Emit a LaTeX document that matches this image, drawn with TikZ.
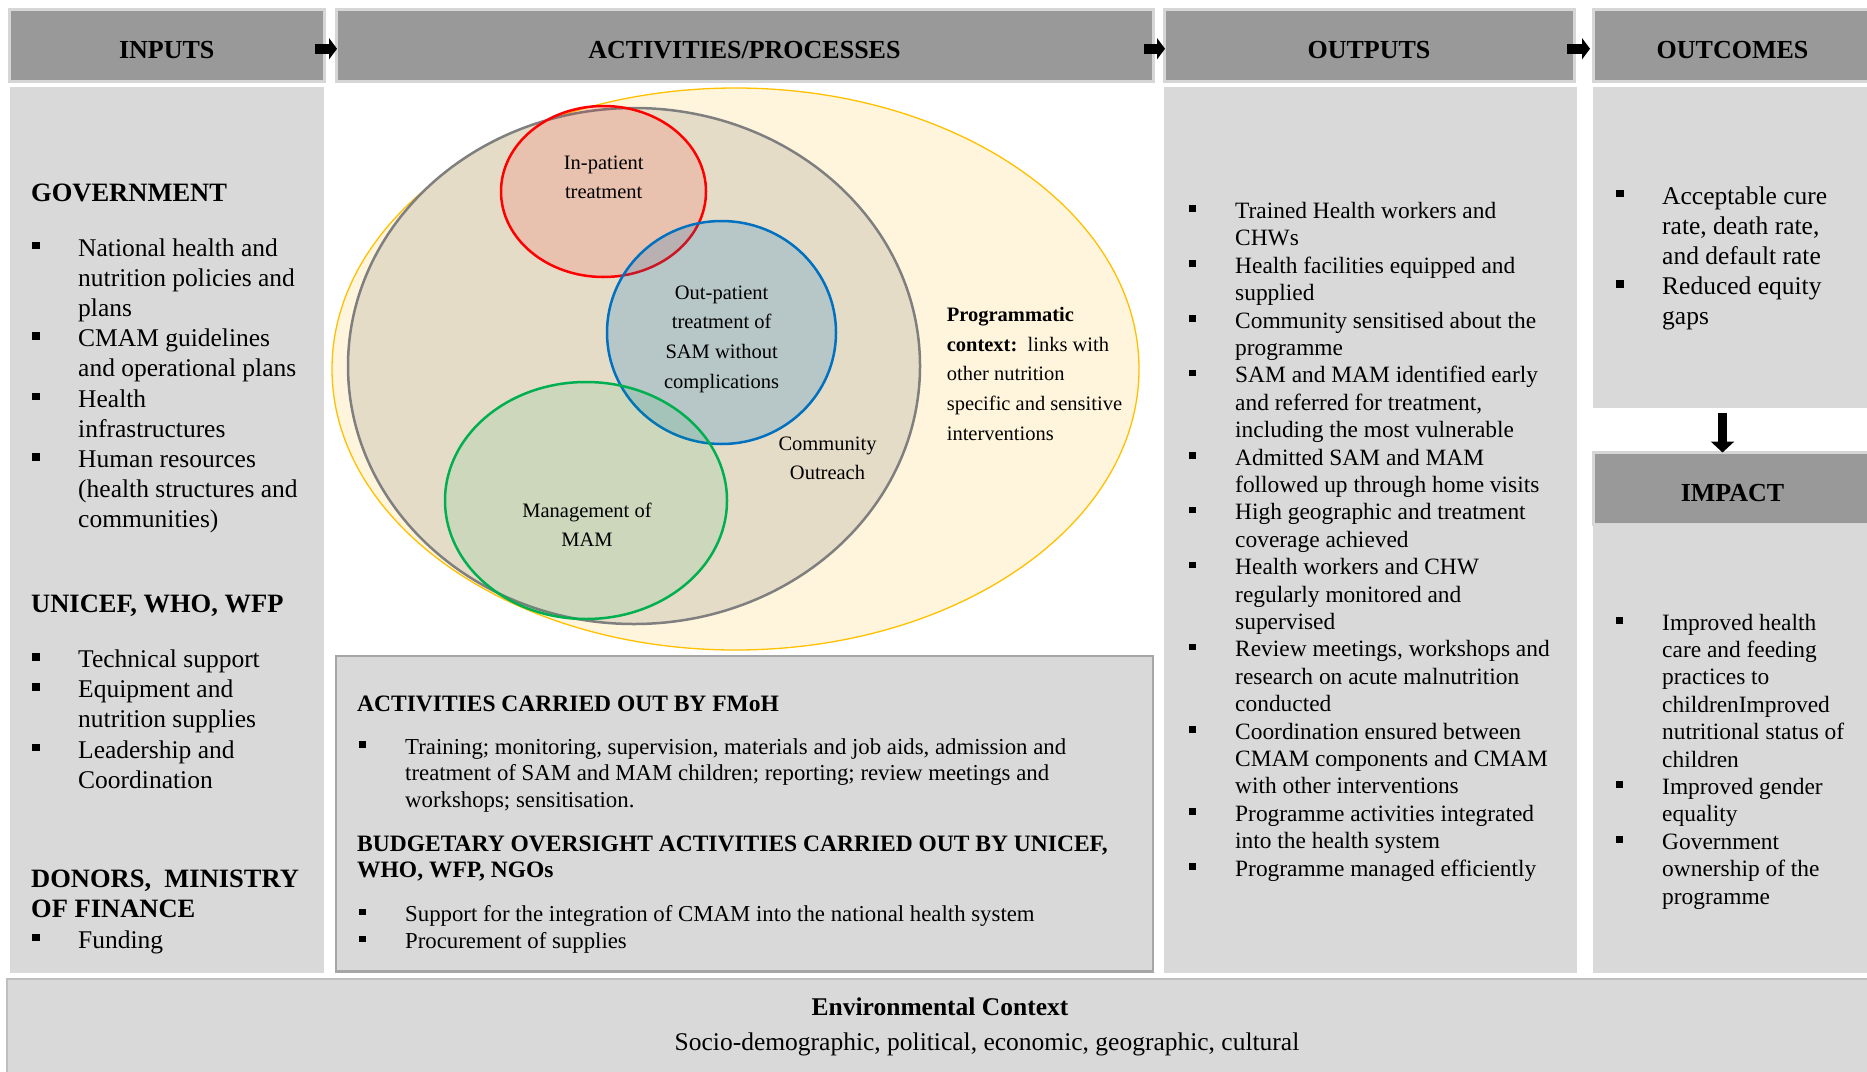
\documentclass[tikz,border=0pt]{standalone}
\usepackage{fontspec}
\setmainfont{Liberation Serif}
\usetikzlibrary{arrows.meta}

\definecolor{hdrgray}{HTML}{999999}
\definecolor{hdredge}{HTML}{D6D6D6}
\definecolor{boxgray}{HTML}{D9D9D9}
\definecolor{actedge}{HTML}{A6A6A6}
\definecolor{envedge}{HTML}{BFBFBF}
\definecolor{progfill}{HTML}{FFF5DC}
\definecolor{progline}{HTML}{FFC000}
\definecolor{commfill}{HTML}{E5DCC8}
\definecolor{commline}{HTML}{7F7F7F}
\definecolor{inred}{HTML}{FF0000}
\definecolor{outblue}{HTML}{0070C0}
\definecolor{mamgreen}{HTML}{00B050}

% square bullet with its hanging indent
\newcommand{\sqb}{\makebox[46pt][l]{\rule[0.27em]{0.29em}{0.29em}}}
% stacked lines, first baseline on the node's base
\newcommand{\txtrows}[2][l]{\begin{tabular}[t]{@{}#1@{}}#2\end{tabular}}

\begin{document}
\begin{tikzpicture}[x=1pt,y=-1pt,
  hdr/.style={draw=hdredge, line width=3pt, fill=hdrgray, outer sep=0pt, inner sep=0pt,
    anchor=north west, minimum height=71.5pt, text height=26pt, text depth=0pt,
    font=\fontsize{26}{30}\selectfont\bfseries},
  panel/.style={fill=boxgray, outer sep=0pt, inner sep=0pt, anchor=north west},
  blk/.style={line width=10pt, -{Triangle[length=8pt,width=21pt]}},
  venn/.style={font=\fontsize{20.5}{29.7}\selectfont, inner sep=0pt, anchor=base},
  subhd/.style={font=\fontsize{26.5}{30.2}\selectfont\bfseries, inner sep=0pt, anchor=base west},
  bigtxt/.style={font=\fontsize{25.5}{30.2}\selectfont, inner sep=0pt, anchor=base west},
  outtxt/.style={font=\fontsize{23.4}{27.4}\selectfont, inner sep=0pt, anchor=base west},
  acthd/.style={font=\fontsize{23.5}{26.8}\selectfont\bfseries, inner sep=0pt, anchor=base west},
  acttxt/.style={font=\fontsize{22.8}{26.8}\selectfont, inner sep=0pt, anchor=base west}]
  \useasboundingbox (0,0) rectangle (1867,1071);

  % Column headers
  \node[hdr, minimum width=314.5pt] (inputsH) at (9.5,9.5) {INPUTS};
  \node[hdr, minimum width=817pt] (actsH) at (336,9.5) {ACTIVITIES/PROCESSES};
  \node[hdr, minimum width=410pt] (outputsH) at (1164,9.5) {OUTPUTS};
  \node[hdr, minimum width=279pt] (outcomesH) at (1593,9.5) {OUTCOMES};

  % Column bodies
  \node[panel, minimum width=314.5pt, minimum height=886pt] (inputsB) at (9.5,87) {};
  \node[panel, minimum width=412.5pt, minimum height=886pt] (outputsB) at (1164,87) {};
  \node[panel, minimum width=279pt, minimum height=321pt] (outcomesB) at (1593,87) {};
  \node[hdr, minimum width=279pt] (impactH) at (1593,452.5) {IMPACT};
  \node[panel, minimum width=279pt, minimum height=449pt] (impactB) at (1593,524) {};
  \node[panel, draw=actedge, line width=2.5pt, minimum width=817pt, minimum height=315.5pt] (actsB) at (336,656) {};
  \node[panel, draw=envedge, line width=2.5pt, minimum width=1870pt, minimum height=100pt] (envB) at (7,979) {};

  % Flow arrows
  \draw[blk] ([xshift=-9pt,yshift=-3.5pt]inputsH.east) -- ([xshift=1pt,yshift=-3.5pt]actsH.west);
  \draw[blk] ([xshift=-9pt,yshift=-3.5pt]actsH.east) -- ([xshift=1pt,yshift=-3.5pt]outputsH.west);
  \draw[blk] ([xshift=-7pt,yshift=-3.5pt]outputsH.east) -- ([xshift=-3pt,yshift=-3.5pt]outcomesH.west);
  \draw[line width=9pt, -{Triangle[length=11pt,width=23pt]}] ([xshift=-10pt,yshift=-5pt]outcomesB.south) -- ([xshift=-10pt]impactH.north);

  % Venn of CMAM components
  \filldraw[fill=progfill, draw=progline, line width=1.3pt] (735.5,369) ellipse [x radius=403.5pt, y radius=281pt];
  \filldraw[fill=commfill, draw=commline, line width=2.5pt] (634,366) ellipse [x radius=286pt, y radius=258pt];
  \filldraw[fill=inred, fill opacity=0.12, draw=inred, line width=2.5pt] (603.5,191.5) ellipse [x radius=102.5pt, y radius=85.5pt];
  \filldraw[fill=outblue, fill opacity=0.2, draw=outblue, line width=2.5pt] (721.5,332.5) ellipse [x radius=114.5pt, y radius=111.5pt];
  \filldraw[fill=mamgreen, fill opacity=0.1, draw=mamgreen, line width=2.5pt] (586,500.5) ellipse [x radius=141pt, y radius=118.5pt];

  \node[venn] (inpat) at (603.7,169) {\txtrows[c]{In-patient\\treatment}};
  \node[venn] (outpat) at (721.6,299) {\txtrows[c]{Out-patient\\treatment of\\SAM without\\complications}};
  \node[venn] (mam) at (587,517) {\txtrows[c]{Management of\\MAM}};
  \node[venn] (comm) at (827.5,450) {\txtrows[c]{Community\\Outreach}};
  \node[venn, anchor=base west] (prog) at (946.6,321.5) {\txtrows{\textbf{Programmatic}\\\textbf{context:}~~links with\\other nutrition\\specific and sensitive\\interventions}};

  % Inputs
  \node[subhd] (govT) at (31,201.7) {GOVERNMENT};
  \node[bigtxt] (govL) at (32,256) {\txtrows[l@{}l]{\sqb & National health and\\ & nutrition policies and\\ & plans\\
    \sqb & CMAM guidelines\\ & and operational plans\\ \sqb & Health\\ & infrastructures\\
    \sqb & Human resources\\ & (health structures and\\ & communities)}};
  \node[subhd] (unT) at (31,612.7) {UNICEF, WHO, WFP};
  \node[bigtxt] (unL) at (32,667.5) {\txtrows[l@{}l]{\sqb & Technical support\\ \sqb & Equipment and\\
    & nutrition supplies\\ \sqb & Leadership and\\ & Coordination}};
  \node[subhd] (donT) at (31,887.7) {\txtrows{DONORS,~~MINISTRY\\OF FINANCE}};
  \node[bigtxt] (donL) at (32,948.3) {\txtrows[l@{}l]{\sqb & Funding}};

  % Activities carried out
  \node[acthd] (fmohT) at (357,711) {ACTIVITIES CARRIED OUT BY FMoH};
  \node[acttxt] (fmohL) at (359,754) {\txtrows[l@{}l]{\sqb & Training; monitoring, supervision, materials and job aids, admission and\\
    & treatment of SAM and MAM children; reporting; review meetings and\\ & workshops; sensitisation.}};
  \node[acthd] (budT) at (357,851) {\txtrows{BUDGETARY OVERSIGHT ACTIVITIES CARRIED OUT BY UNICEF,\\WHO, WFP, NGOs}};
  \node[acttxt] (budL) at (359,921.5) {\txtrows[l@{}l]{\sqb & Support for the integration of CMAM into the national health system\\
    \sqb & Procurement of supplies}};

  % Outputs
  \node[outtxt] (outL) at (1189,218.4) {\txtrows[l@{}l]{\sqb & Trained Health workers and\\ & CHWs\\
    \sqb & Health facilities equipped and\\ & supplied\\
    \sqb & Community sensitised about the\\ & programme\\
    \sqb & SAM and MAM identified early\\ & and referred for treatment,\\ & including the most vulnerable\\
    \sqb & Admitted SAM and MAM\\ & followed up through home visits\\
    \sqb & High geographic and treatment\\ & coverage achieved\\
    \sqb & Health workers and CHW\\ & regularly monitored and\\ & supervised\\
    \sqb & Review meetings, workshops and\\ & research on acute malnutrition\\ & conducted\\
    \sqb & Coordination ensured between\\ & CMAM components and CMAM\\ & with other interventions\\
    \sqb & Programme activities integrated\\ & into the health system\\
    \sqb & Programme managed efficiently}};

  % Outcomes and impact
  \node[bigtxt] (ocL) at (1616,204) {\txtrows[l@{}l]{\sqb & Acceptable cure\\ & rate, death rate,\\ & and default rate\\
    \sqb & Reduced equity\\ & gaps}};
  \node[outtxt] (imL) at (1616,630) {\txtrows[l@{}l]{\sqb & Improved health\\ & care and feeding\\ & practices to\\
    & childrenImproved\\ & nutritional status of\\ & children\\ \sqb & Improved gender\\ & equality\\
    \sqb & Government\\ & ownership of the\\ & programme}};

  % Environmental context
  \node[font=\fontsize{25.5}{30}\selectfont\bfseries, anchor=base] (envT) at (940,1015.5) {Environmental Context};
  \node[font=\fontsize{25.5}{30}\selectfont, anchor=base] (envS) at (987,1050.5) {Socio-demographic, political, economic, geographic, cultural};
\end{tikzpicture}
\end{document}
